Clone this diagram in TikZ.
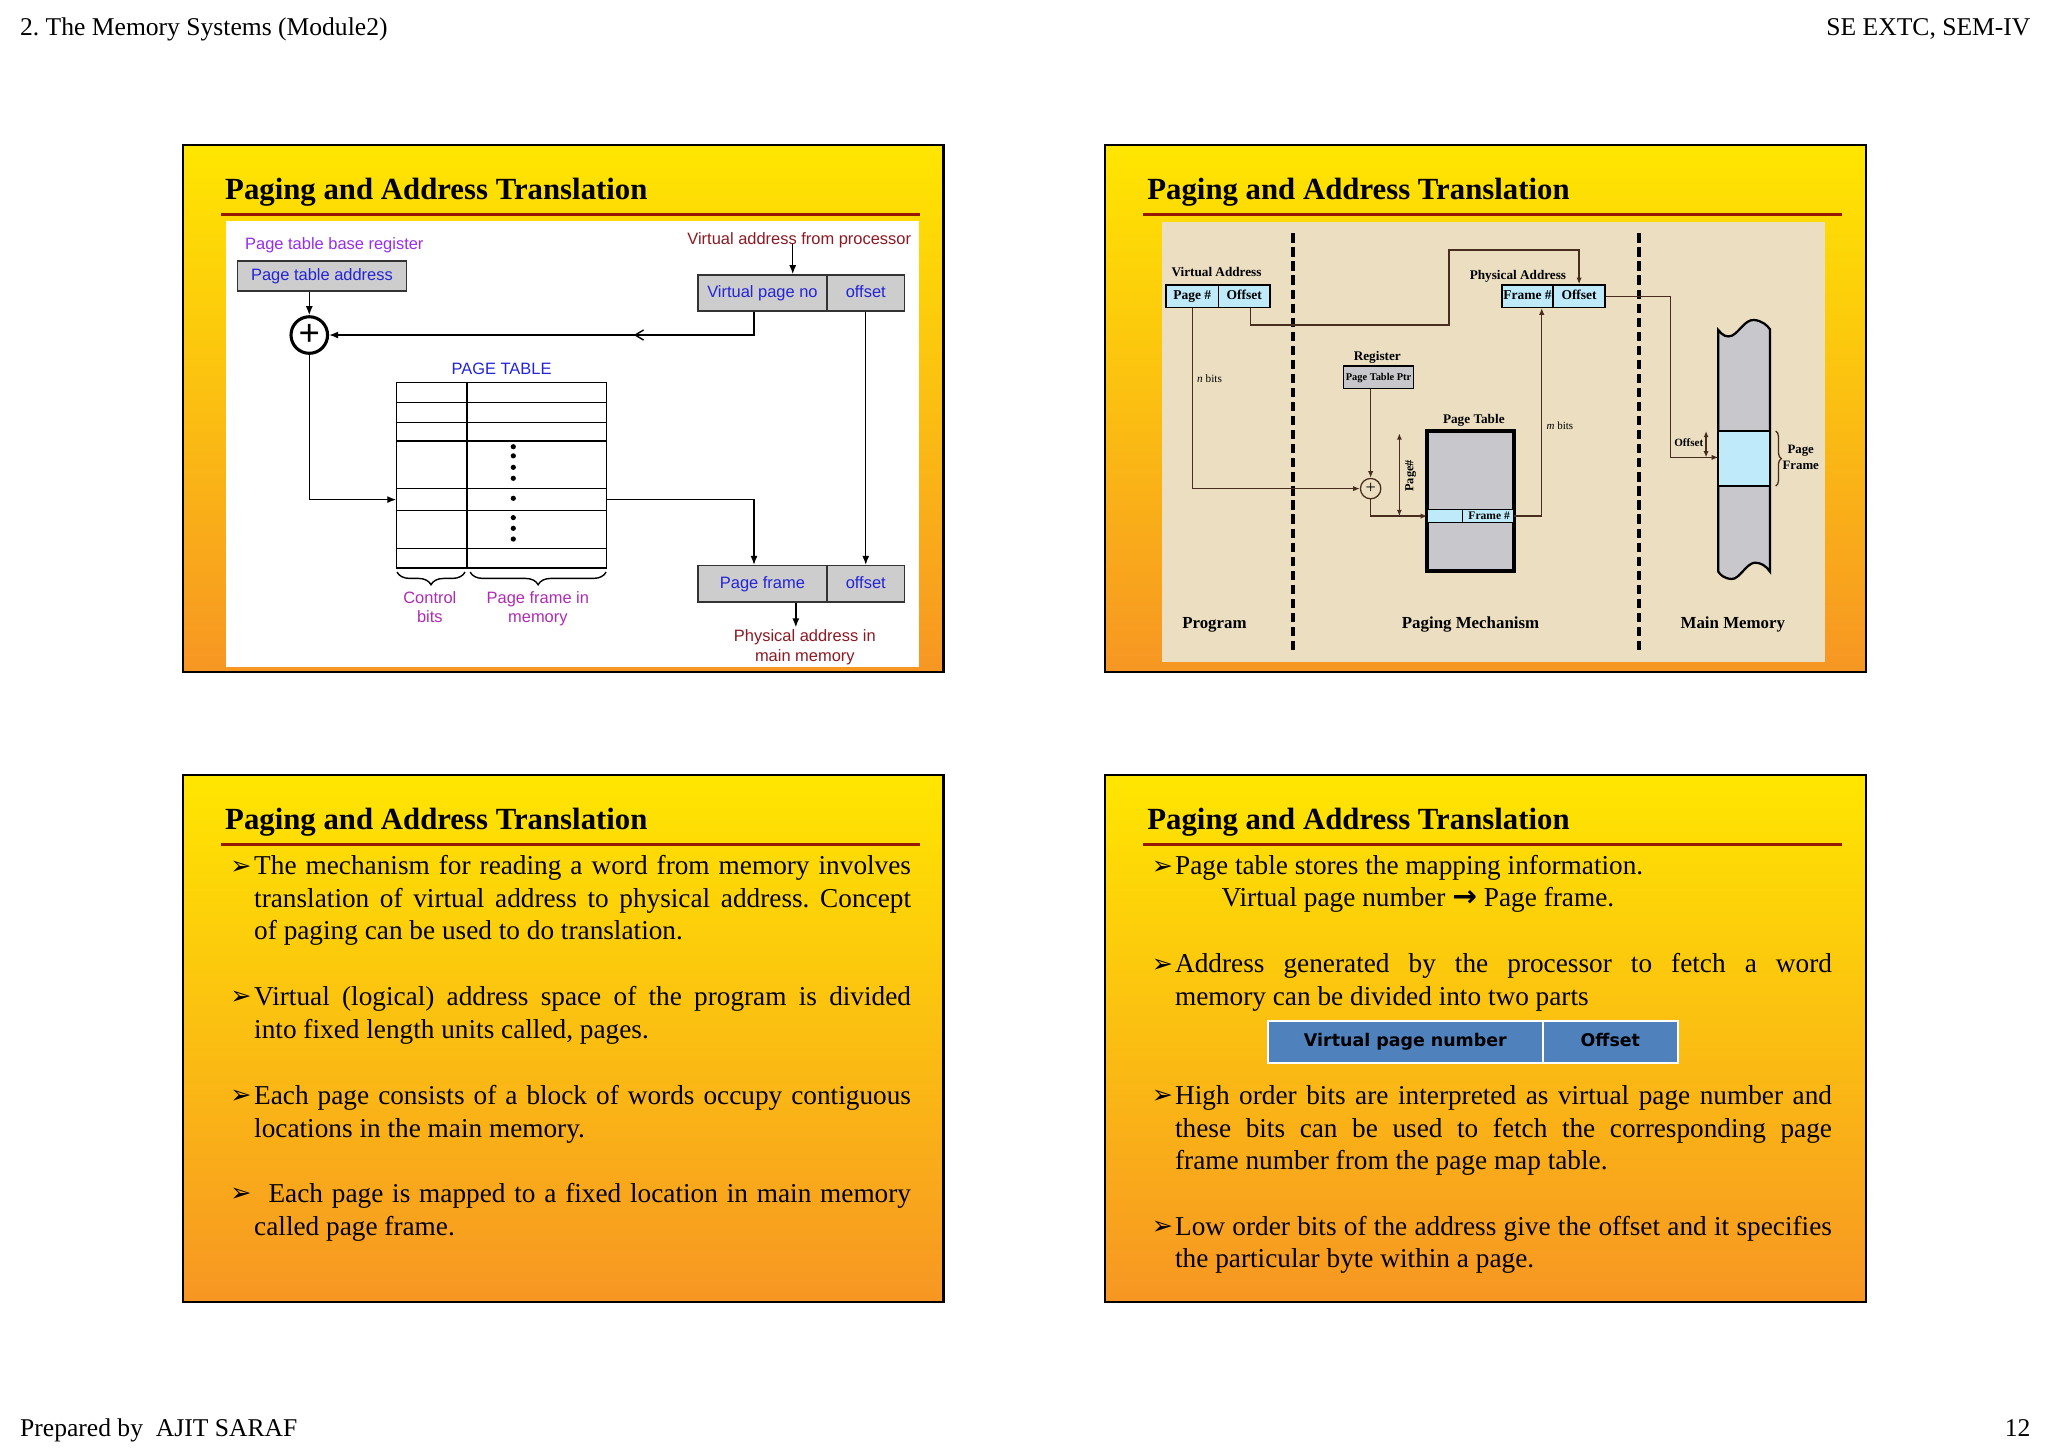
\documentclass[tikz,border=0pt]{standalone}
\usepackage{fontspec}
\setmainfont{Liberation Serif}
\newfontfamily\arialf{Liberation Sans}
\newfontfamily\dvsans{DejaVu Sans}
\usetikzlibrary{arrows.meta,decorations.pathreplacing,decorations.markings}
\definecolor{slidetop}{RGB}{255,230,0}
\definecolor{slidebot}{RGB}{247,150,35}
\definecolor{rulered}{RGB}{150,25,5}
\definecolor{boxgray}{RGB}{205,205,205}
\definecolor{diablue}{RGB}{35,35,215}
\definecolor{regpurple}{RGB}{150,45,235}
\definecolor{brpurple}{RGB}{175,45,180}
\definecolor{addrred}{RGB}{140,25,35}
\definecolor{parch}{RGB}{236,223,193}
\definecolor{cellcyan}{RGB}{190,234,250}
\definecolor{ptgray}{RGB}{200,200,204}
\definecolor{wirebrown}{RGB}{70,45,30}
\definecolor{tblblue}{RGB}{79,129,189}
\newcommand{\pxu}{0.016327cm}
\hyphenpenalty=10000
\exhyphenpenalty=10000
\frenchspacing

\begin{document}
\begin{tikzpicture}[x=\pxu, y=-\pxu,
  hdr/.style={inner sep=0pt, font=\fontsize{9.1}{11}\selectfont},
  slidetitle/.style={anchor=base west, inner sep=0pt, font=\fontsize{10.95}{13}\selectfont\bfseries},
  bul/.style={anchor=base west, inner sep=0pt, font=\dvsans\fontsize{9}{10}\selectfont},
  bodytext/.style={anchor=north west, inner sep=0pt, text width=233.6pt, align=justify, font=\fontsize{9.7}{11.61}\selectfont},
  lbl/.style={inner sep=0pt, font=\arialf\fontsize{5.85}{7}\selectfont},
  gcell/.style={draw=black!80, fill=boxgray, line width=0.55pt, inner sep=0pt, text=diablue, text height=4.3pt, text depth=1.2pt, font=\arialf\fontsize{5.85}{7}\selectfont},
  wire/.style={line width=0.5pt},
  arr/.style={wire, -{Latex[length=3.2pt,width=2.5pt]}},
  divline/.style={line width=1.4pt, dash pattern=on 3.3pt off 1.7pt},
  plbl/.style={inner sep=0pt, font=\bfseries\fontsize{4.7}{5.6}\selectfont},
  ccell/.style={draw=black, fill=cellcyan, line width=0.5pt, inner sep=0pt, text height=3.3pt, text depth=0.9pt, font=\bfseries\fontsize{4.8}{5.6}\selectfont},
  wire2/.style={draw=wirebrown, line width=0.45pt},
  arr2/.style={wire2, -{Latex[length=2.4pt,width=1.9pt]}},
  tcell/.style={draw=white, fill=tblblue, line width=0.6pt, inner sep=0pt, text height=4.6pt, text depth=1.3pt, font=\dvsans\bfseries\fontsize{6.2}{7}\selectfont}
]
  \useasboundingbox (0,0) rectangle (1568,1109);
  \fill[white] (0,0) rectangle (1568,1109);
  % 页眉页脚
  \node[hdr, anchor=base west] (hl) at (15,27) {2. The Memory Systems (Module2)};
  \node[hdr, anchor=base east] (hr) at (1555,27) {SE EXTC, SEM-IV};
  \node[hdr, anchor=base west] (fl) at (15,1100) {Prepared by\ \ AJIT SARAF};
  \node[hdr, anchor=base east] (fr) at (1555,1100) {12};
  % 四张幻灯片的底色、标题和红线
  \foreach \sx/\sy in {140/111,846/111,140/593.5,846/593.5} {
    \shade[top color=slidetop, bottom color=slidebot] (\sx,\sy) rectangle ++(582.5,403.5);
    \draw[line width=0.9pt] (\sx,\sy) rectangle ++(582.5,403.5);
    \node[slidetitle] at (\sx+32,\sy+41.6) {Paging and Address Translation};
    \draw[rulered, line width=1pt] (\sx+29,\sy+53.2) -- ++(535,0);
  }

  % 左上：页表地址变换
  \fill[white] (173,169.2) rectangle (703.5,511);
  \node[lbl, text=regpurple, anchor=base west] (ptbrl) at (187.3,191) {Page table base register};
  \node[gcell, minimum width=129.5*\pxu, minimum height=23*\pxu] (ptaddr) at (246.5,211.3) {Page table address};
  \node[lbl, text=addrred, anchor=base] (vafp) at (611.9,187.1) {Virtual address from processor};
  \node[gcell, minimum width=99.1*\pxu, minimum height=27.6*\pxu] (vpn) at (583.75,224.3) {Virtual page no};
  \node[gcell, minimum width=59.1*\pxu, minimum height=27.6*\pxu] (voff) at (662.85,224.3) {offset};
  \node[gcell, minimum width=99.1*\pxu, minimum height=27.6*\pxu] (pfr) at (583.75,446.9) {Page frame};
  \node[gcell, minimum width=59.1*\pxu, minimum height=27.6*\pxu] (poff) at (662.85,446.9) {offset};
  \node[draw, circle, line width=1.1pt, fill=white, minimum size=28*\pxu, inner sep=0pt,
        font=\arialf\fontsize{13}{13}\selectfont] (sum) at (236.8,256.5) {+};
  \node[lbl, text=diablue, anchor=base] (ptl) at (384,286.6) {PAGE TABLE};
  \node[draw, line width=0.5pt, minimum width=161*\pxu, minimum height=142.2*\pxu, inner sep=0pt] (ptab) at (383.9,363.8) {};
  \foreach \y in {308.3,323.6,337.6,373.9,391,420}
    \draw[wire] (303.4,\y) -- (464.4,\y);
  \draw[wire] (357.5,292.7) -- (357.5,434.9);
  \foreach \y in {342,349,357.8,366.2,381.5,396.3,404.5,412.7}
    \fill (393,\y) circle (2);
  \draw[wire, decorate, decoration={brace, mirror, amplitude=4.5pt}] (304,438) -- (356,438);
  \draw[wire, decorate, decoration={brace, mirror, amplitude=4.5pt}] (360,438) -- (464,438);
  \node[lbl, text=brpurple, anchor=north, align=center] (ctrl) at (329.1,450.9) {\strut Control\\bits};
  \node[lbl, text=brpurple, anchor=north, align=center] (pfmem) at (411.8,450.9) {\strut Page frame in\\memory};
  \node[lbl, text=addrred, anchor=north, align=center] (paddr) at (616.2,480.3) {\strut Physical address in\\main memory};
  \coordinate (vin) at ([xshift=-2.3pt]vafp.base);
  \coordinate (vpnout) at ([xshift=-3pt]vpn.south);
  \coordinate (pout) at ([xshift=-3.2pt]paddr.north);
  \coordinate (rowin) at (303.4,382.5);
  \coordinate (rowout) at (464.4,382.5);
  \draw[arr] (vin) -- (vin |- vpn.north);
  \draw[arr] (ptaddr.south -| sum.north) -- (sum.north);
  \draw[arr, postaction={decorate}, decoration={markings,
        mark=at position 0.32 with {\arrow{Straight Barb[length=3pt,width=3.6pt]}}}] (vpnout) |- (sum.east);
  \draw[arr] (sum.south) |- (rowin);
  \draw[arr] (rowout) -| (vpnout |- pfr.north);
  \draw[arr] (voff.south) -- (poff.north);
  \draw[arr] (pout |- pfr.south) -- (pout);

  % 右上：分页机制
  \fill[parch] (889.3,169.7) rectangle (1397,506.6);
  \draw[divline] (989.9,178.6) -- (989.9,497.7);
  \draw[divline] (1254.5,178.6) -- (1254.5,497.7);
  \node[plbl, anchor=base] (valab) at (931.4,211.8) {Virtual Address};
  \node[ccell, minimum width=40.5*\pxu, minimum height=17.1*\pxu] (vpg) at (912.85,226.75) {Page \#};
  \node[ccell, minimum width=39.2*\pxu, minimum height=17.1*\pxu] (vofs) at (952.7,226.75) {Offset};
  \node[plbl, anchor=base] (palab) at (1162.2,213.9) {Physical Address};
  \node[ccell, minimum width=39.2*\pxu, minimum height=17.1*\pxu] (pfrm) at (1169.5,226.75) {Frame \#};
  \node[ccell, minimum width=39.8*\pxu, minimum height=17.1*\pxu] (pofs) at (1209,226.75) {Offset};
  \node[plbl, anchor=base] (reglab) at (1054.5,276.1) {Register};
  \node[ccell, fill=ptgray, minimum width=53.3*\pxu, minimum height=17.1*\pxu,
        font=\bfseries\fontsize{3.7}{4.5}\selectfont] (ptp) at (1055.45,288.75) {Page Table Ptr};
  \node[inner sep=0pt, anchor=base west, font=\fontsize{4}{5}\selectfont] (nbits) at (916.2,293) {\textit{n} bits};
  \node[inner sep=0pt, anchor=base west, font=\fontsize{3.9}{5}\selectfont] (mbits) at (1183.7,329.2) {\textit{m} bits};
  \node[draw=wirebrown, circle, line width=0.45pt, minimum size=15.6*\pxu, inner sep=0pt,
        font=\fontsize{6.5}{6.5}\selectfont] (sum2) at (1049.4,374.1) {+};
  \node[plbl, anchor=base] (ptlab) at (1128.4,324.6) {Page Table};
  \node[draw, line width=0.9pt, fill=ptgray, minimum width=66.1*\pxu, minimum height=106.5*\pxu, inner sep=0pt] (ptbl) at (1125.85,383.45) {};
  \node[draw, fill=cellcyan, line width=0.4pt, minimum width=66.1*\pxu, minimum height=10.2*\pxu, inner sep=0pt] (frow) at (1125.85,395.1) {};
  \draw[line width=0.4pt] (1119.6,390) -- (1119.6,400.2);
  \draw[line width=0.9pt] (ptbl.north west) rectangle (ptbl.south east);
  \node[inner sep=0pt, anchor=base, font=\bfseries\fontsize{4.1}{5}\selectfont] (frlab) at (1140.1,397.6) {Frame \#};
  \node[plbl, rotate=90, font=\bfseries\fontsize{4.4}{5}\selectfont] (pglab) at (1080,364.3) {Page\#};
  \draw[wire2, {Latex[length=2.2pt,width=1.8pt]}-{Latex[length=2.2pt,width=1.8pt]}] (1071.4,331.8) -- (1071.4,395.1);
  % 主存
  \filldraw[fill=ptgray, line width=0.8pt] (1315.6,252.7) .. controls (1319,257) and (1322,258.5) .. (1326,257)
    .. controls (1332,254) and (1336,244.5) .. (1343,245) .. controls (1349,245.5) and (1353,249) .. (1355.2,252.2)
    -- (1355.2,437.7) .. controls (1352,433) and (1348,430.8) .. (1343.7,430.8)
    .. controls (1337,431) and (1332,443.5) .. (1325.8,443.3) .. controls (1320,443) and (1317,440) .. (1315.6,437.7) -- cycle;
  \filldraw[fill=cellcyan, line width=0.8pt] (1315.6,330) rectangle (1355.2,372.2);
  \coordinate (pfin) at (1315.6,350.2);
  \draw[wire2, {Latex[length=2.2pt,width=1.8pt]}-{Latex[length=2.2pt,width=1.8pt]}] (1306.2,330) -- (1306.2,350.2);
  \node[inner sep=0pt, anchor=base, font=\bfseries\fontsize{3.95}{5}\selectfont] (ofslab) at (1293,342) {Offset};
  \draw[wire2, decorate, decoration={brace, amplitude=2pt}] (1359.5,330) -- (1359.5,372.2);
  \node[inner sep=0pt, anchor=north, align=center, font=\bfseries\fontsize{4.56}{5.57}\selectfont] (pflab) at (1378.7,338.7) {\strut Page\\Frame};
  \draw[arr2] (vpg.south) |- (sum2.west);
  \draw[arr2] (ptp.south -| sum2.north) -- (sum2.north);
  \coordinate (rowin2) at (1092.8,395.1);
  \coordinate (rowout2) at (1158.9,395.1);
  \draw[arr2] (sum2.south) |- (rowin2);
  \draw[arr2] (rowout2) -| ([xshift=5.06pt]pfrm.south);
  \draw[arr2] ([xshift=2.2pt]vofs.south) |- ++(152,13) |- ([yshift=12.2pt]pofs.north) -- (pofs.north);
  \draw[arr2] (pofs.east) -| ([xshift=-16.95pt]pfin) -- (pfin);
  \node[inner sep=0pt, anchor=base, font=\bfseries\fontsize{6}{7}\selectfont] (prog) at (929.8,481.1) {Program};
  \node[inner sep=0pt, anchor=base, font=\bfseries\fontsize{6}{7}\selectfont] (pmech) at (1125.9,481.1) {Paging Mechanism};
  \node[inner sep=0pt, anchor=base, font=\bfseries\fontsize{6}{7}\selectfont] (mmem) at (1326.7,481.1) {Main Memory};

  % 左下：文字要点
  \node[bul] at (176,669.2) {➢};
  \node[bodytext] (s3a) at (194.2,651.7) {\strut The mechanism for reading a word from memory involves\linebreak translation of virtual address to physical address. Concept\linebreak of paging can be used to do translation.};
  \node[bul] at (176,769.4) {➢};
  \node[bodytext] (s3b) at (194.2,751.9) {\strut Virtual (logical) address space of the program is divided\linebreak into fixed length units called, pages.};
  \node[bul] at (176,845.2) {➢};
  \node[bodytext] (s3c) at (194.2,827.7) {\strut Each page consists of a block of words occupy contiguous\linebreak locations in the main memory.};
  \node[bul] at (176,920.2) {➢};
  \node[bodytext] (s3d) at (194.2,902.7) {\strut\hspace*{5.1pt}Each page is mapped to a fixed location in main memory\linebreak called page frame.};

  % 右下：文字要点与地址格式
  \node[bul] at (881.4,669.2) {➢};
  \node[inner sep=0pt, anchor=base west, font=\fontsize{9.7}{11.61}\selectfont] (s4a) at (899.3,669.2) {Page table stores the mapping information.};
  \node[inner sep=0pt, anchor=base west, font=\fontsize{9.7}{11.61}\selectfont] (s4m) at (934.8,694.2) {Virtual page number {\dvsans\bfseries\fontsize{10.5}{11}\selectfont →} Page frame.};
  \node[bul] at (881.4,744.4) {➢};
  \node[bodytext] (s4b) at (899.3,726.9) {\strut Address generated by the processor to fetch a word\linebreak memory can be divided into two parts};
  \node[tcell, minimum width=210.2*\pxu, minimum height=32.6*\pxu] (vpnum) at (1076,797.8) {Virtual page number};
  \node[tcell, minimum width=103.6*\pxu, minimum height=32.6*\pxu] (ofsc) at (1232.9,797.8) {Offset};
  \node[bul] at (881.4,845.2) {➢};
  \node[bodytext] (s4c) at (899.3,827.7) {\strut High order bits are interpreted as virtual page number and\linebreak these bits can be used to fetch the corresponding page\linebreak frame number from the page map table.};
  \node[bul] at (881.4,945.2) {➢};
  \node[bodytext] (s4d) at (899.3,927.7) {\strut Low order bits of the address give the offset and it specifies\linebreak the particular byte within a page.};
\end{tikzpicture}
\end{document}
